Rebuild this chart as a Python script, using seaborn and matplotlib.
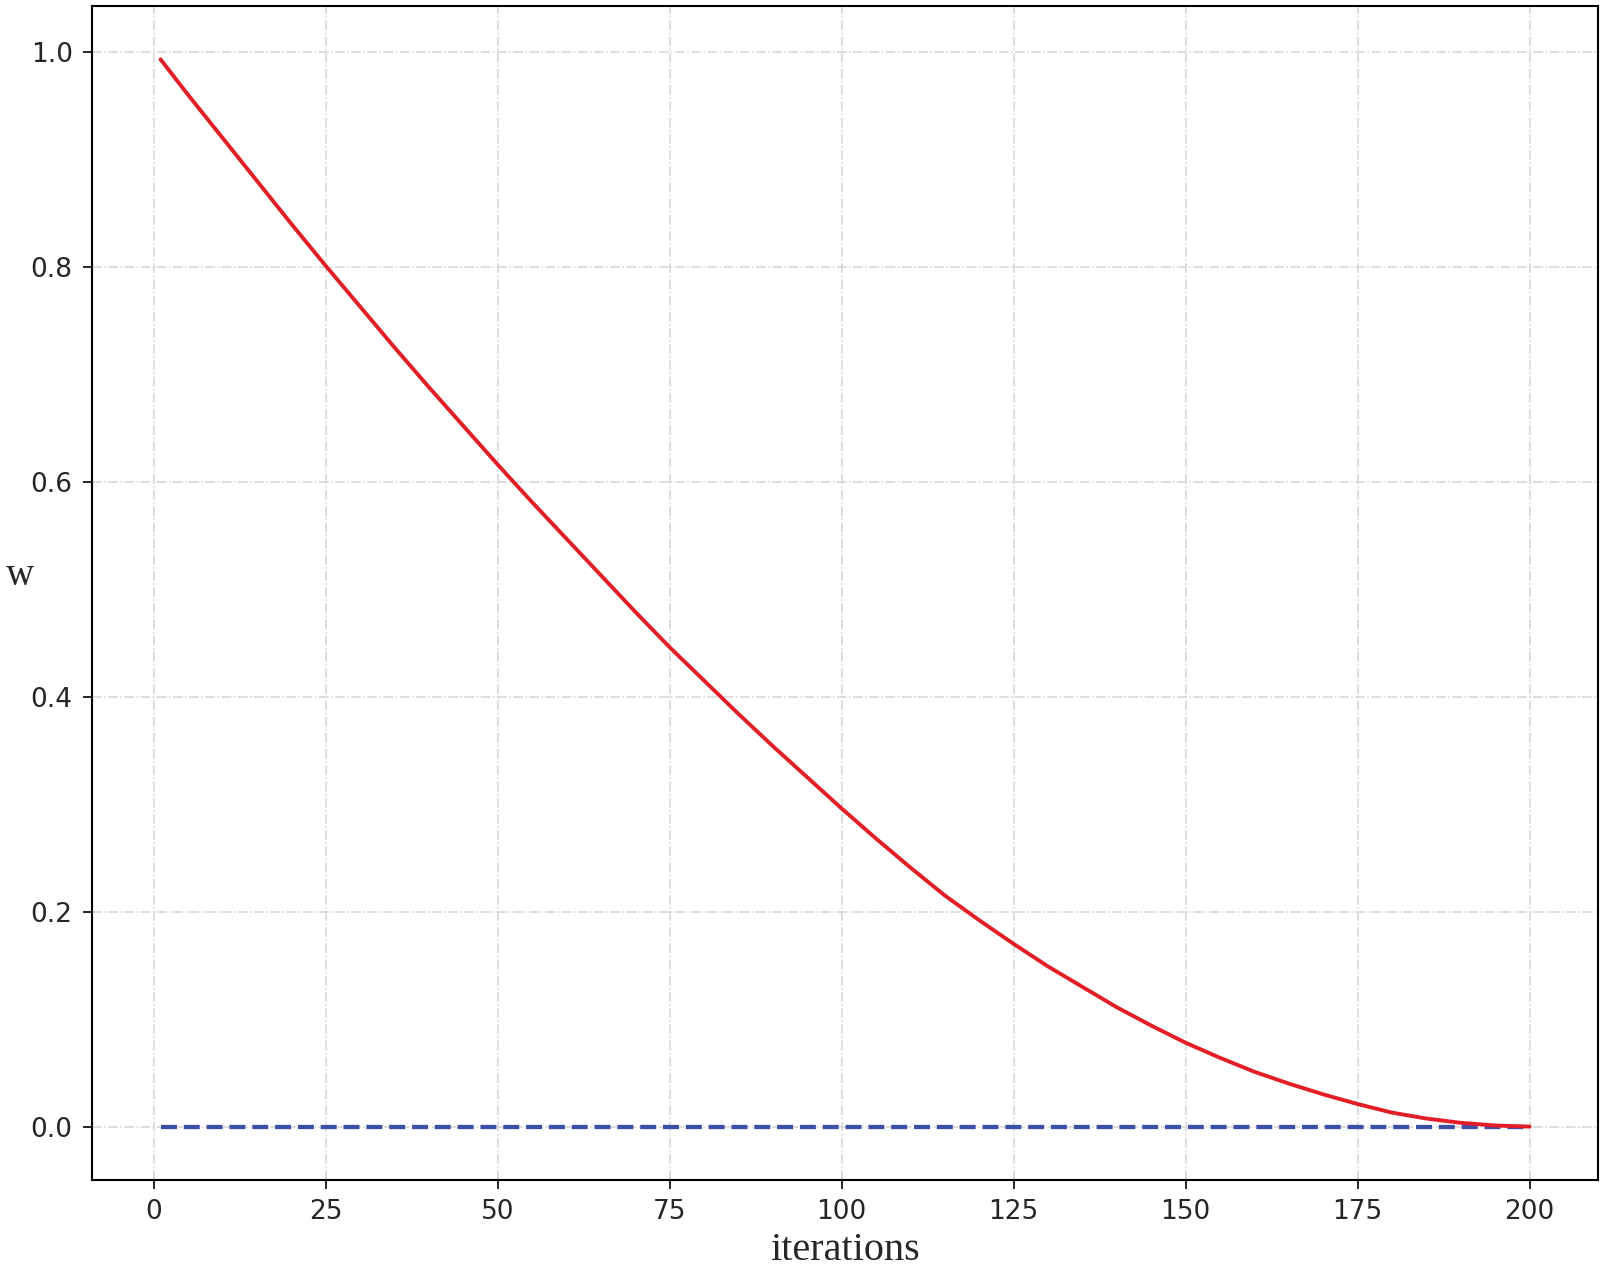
import matplotlib
matplotlib.use("Agg")
import matplotlib.pyplot as plt
import numpy as np
import pandas as pd
import seaborn as sns

# values
iterations = [1, 5, 10, 15, 20, 25, 30, 35, 40, 45, 50, 55, 60, 65, 70, 75, 80, 85, 90, 95, 100,
              105, 110, 115, 120, 125, 130, 135, 140, 145, 150, 155, 160, 165, 170, 175, 180,
              185, 190, 195, 200]
w_values = [0.993, 0.960, 0.920, 0.880, 0.840, 0.801, 0.763, 0.725, 0.688, 0.652, 0.616,
            0.581, 0.547, 0.513, 0.479, 0.446, 0.415, 0.384, 0.354, 0.325, 0.296,
            0.268, 0.241, 0.215, 0.192, 0.170, 0.149, 0.130, 0.111, 0.094, 0.078,
            0.064, 0.051, 0.040, 0.030, 0.021, 0.013, 0.0075, 0.0035, 0.001, 0.000]

# dashed reference line at zero
base_x = [1, 200]
base_y = [0.0, 0.0]

x_ticks = [0, 25, 50, 75, 100, 125, 150, 175, 200]
y_ticks = [0.0, 0.2, 0.4, 0.6, 0.8, 1.0]

df = pd.DataFrame({"iterations": iterations, "w": w_values})
df_base = pd.DataFrame({"iterations": base_x, "w": base_y})

sns.set_style("white")
plt.rcParams["font.family"] = ["DejaVu Sans"]

fig = plt.figure(figsize=(16.04, 12.70), dpi=100)
ax = fig.add_axes([0.0574, 0.0709, 0.9389, 0.9244])

sns.lineplot(data=df_base, x="iterations", y="w", ax=ax, color="#3b4fa6",
             linewidth=3.1, linestyle="--", zorder=2)
sns.lineplot(data=df, x="iterations", y="w", ax=ax, color="#e41e26",
             linewidth=2.8, zorder=3)

ax.set_xticks(x_ticks)
ax.set_yticks(y_ticks)
ax.set_yticklabels([f"{v:.1f}" for v in y_ticks])
ax.tick_params(axis="both", labelsize=19, length=6.5, width=1.4, direction="out",
               left=True, bottom=True, pad=7.5)

ax.grid(True, linestyle="-.", color="#d4d4d4", linewidth=1.1)
ax.set_axisbelow(True)

for side in ["left", "right", "top", "bottom"]:
    ax.spines[side].set_visible(True)
    ax.spines[side].set_color("black")
    ax.spines[side].set_linewidth(1.5)

ax.set_xlabel("iterations", family=["Liberation Serif"], fontsize=29, labelpad=5)
ax.set_ylabel("w", family=["Liberation Serif"], fontsize=28, rotation=0,
              ha="center", va="center")
ax.yaxis.set_label_coords(-0.048, 0.515)

fig.savefig("out.png", dpi=100)
